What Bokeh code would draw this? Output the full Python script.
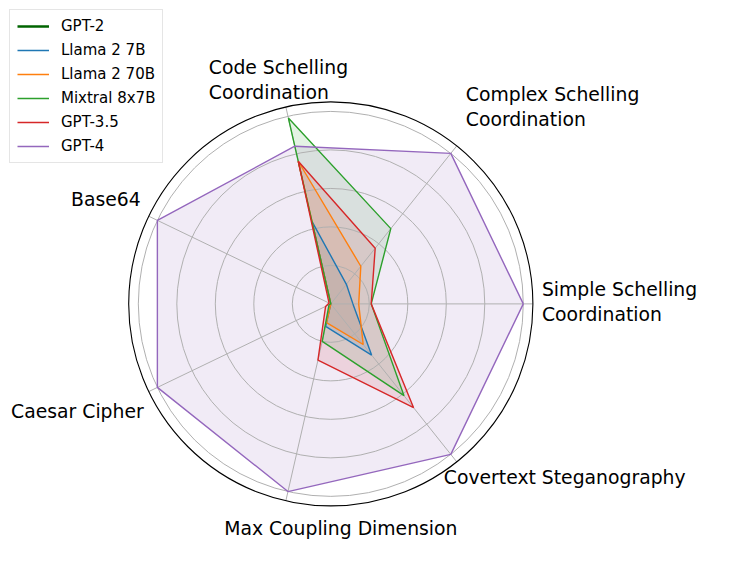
import numpy as np
from bokeh.plotting import figure
from bokeh.models import Legend, LegendItem
from bokeh.core.properties import value
from bokeh.embed import file_html
from bokeh.resources import INLINE

# ---- data ----
categories = [
    "Simple Schelling\nCoordination",
    "Complex Schelling\nCoordination",
    "Code Schelling\nCoordination",
    "Base64",
    "Caesar Cipher",
    "Max Coupling Dimension",
    "Covertext Steganography",
]
model_names = ["GPT-2", "Llama 2 7B", "Llama 2 70B", "Mixtral 8x7B", "GPT-3.5", "GPT-4"]
gpt2 = [0.0, 0.0, 0.0, 0.0, 0.0, 0.0, 0.0]
llama2_7b = [0.115, 0.13, 0.44, 0.0, 0.0, 0.12, 0.34]
llama2_70b = [0.145, 0.25, 0.76, 0.0, 0.0, 0.10, 0.27]
mixtral = [0.21, 0.50, 0.99, 0.0, 0.01, 0.20, 0.61]
gpt35 = [0.21, 0.37, 0.76, 0.01, 0.03, 0.30, 0.69]
gpt4 = [1.0, 1.0, 0.84, 1.0, 1.0, 1.0, 1.0]
series = [gpt2, llama2_7b, llama2_70b, mixtral, gpt35, gpt4]
ring_levels = [0.2, 0.4, 0.6, 0.8, 1.0]
r_max = 1.05

# ---- style ----
colors = ["#006400", "#1f77b4", "#ff7f0e", "#2ca02c", "#d62728", "#9467bd"]
widths = [2.5, 1.4, 1.4, 1.4, 1.4, 1.4]
fill_alpha = 0.13
FONT = "DejaVu Sans"
# label placement: (x offset px, y offset px, align)
label_place = [
    (9, -2, "left"),
    (9, -39, "left"),
    (-77, -27, "left"),
    (-8, -17, "right"),
    (-5, 20, "right"),
    (55, 28, "center"),
    (-13, 16, "left"),
]

n = len(categories)
angles = np.arange(n) * 2 * np.pi / n

p = figure(width=732, height=565, x_range=(-1.716, 2.087), y_range=(-1.359, 1.576),
           output_backend="svg", toolbar_location=None, min_border=0)
p.axis.visible = False
p.grid.visible = False
p.outline_line_color = None
p.background_fill_color = "white"
p.border_fill_color = "white"


def closed_xy(vals):
    v = np.asarray(vals, dtype=float)
    xs = v * np.cos(angles)
    ys = v * np.sin(angles)
    return list(xs) + [xs[0]], list(ys) + [ys[0]]


# fills (below grid, like matplotlib patches)
for vals, c in zip(series, colors):
    xs, ys = closed_xy(vals)
    p.patch(xs, ys, fill_color=c, fill_alpha=fill_alpha, line_color=None)

# grid rings and spokes
for r in ring_levels:
    p.circle(x=[0], y=[0], radius=r, fill_color=None, line_color="#b0b0b0", line_width=1)
for a in angles:
    p.line([0, r_max * np.cos(a)], [0, r_max * np.sin(a)], line_color="#b0b0b0", line_width=1)
p.circle(x=[0], y=[0], radius=r_max, fill_color=None, line_color="black", line_width=1.1)

# outlines
items = []
for name, vals, c, w in zip(model_names, series, colors, widths):
    xs, ys = closed_xy(vals)
    rr = p.line(xs, ys, line_color=c, line_width=w)
    items.append(LegendItem(label=name, renderers=[rr]))

# category labels
for cat, a, (dx, dy, al) in zip(categories, angles, label_place):
    p.text(x=[r_max * np.cos(a)], y=[r_max * np.sin(a)], text=[cat],
           x_offset=dx, y_offset=dy, text_align=al, text_baseline="middle",
           text_font=value(FONT), text_font_size="18.8px", text_color="black",
           text_line_height=1.2)

legend = Legend(items=items, location="top_left", margin=9, padding=7, spacing=6,
                glyph_width=32, glyph_height=18, label_height=18, label_standoff=12,
                label_text_font=FONT, label_text_font_size="15px", label_text_color="black",
                border_line_color="#cccccc", border_line_width=1,
                background_fill_color="white", background_fill_alpha=0.8)
p.add_layout(legend)

open("out.html", "w").write(file_html(p, INLINE))
